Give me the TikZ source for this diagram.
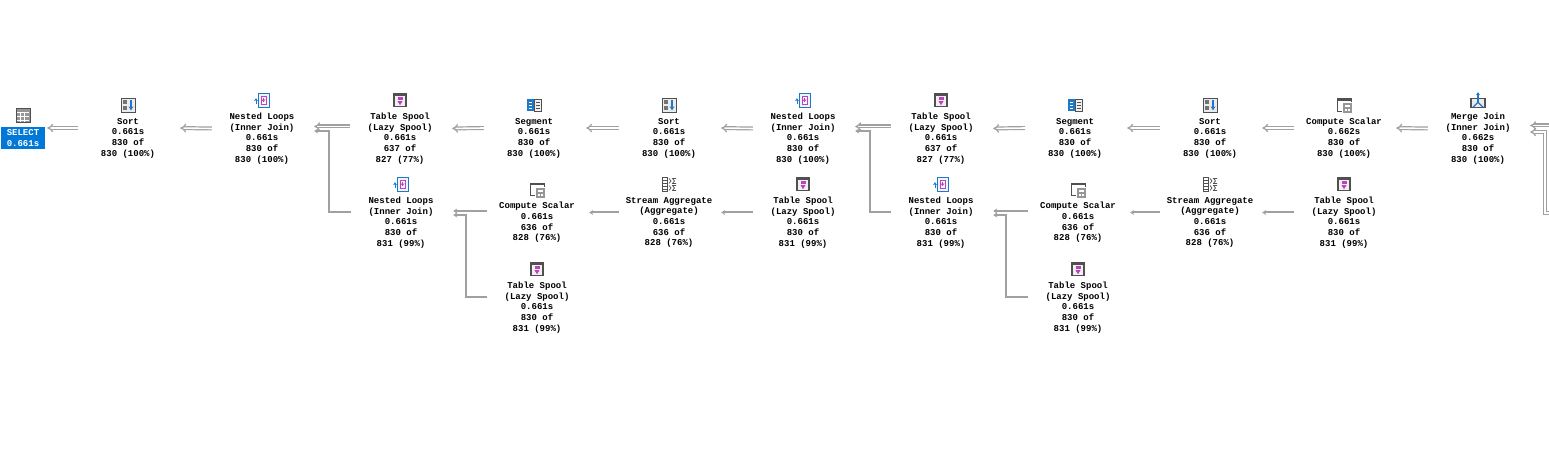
\documentclass[tikz,border=0pt]{standalone}
\usepackage{fontspec}
\setmonofont{Liberation Mono}
\usetikzlibrary{arrows.meta}
\definecolor{edge_gray}{HTML}{A0A0A0}
\definecolor{icon_dark}{HTML}{505050}
\definecolor{icon_blue}{HTML}{1E78C8}
\definecolor{icon_pink}{HTML}{C040C0}
\definecolor{select_blue}{HTML}{0078D7}
\tikzset{
  table_icon/.pic={
    \fill[icon_dark!60] (-7,-7) rectangle (7,7);
    \foreach \k in {-3,1,5} \draw[white,line width=.6] (-6,\k) -- (6,\k);
    \foreach \k in {-2.5,1.5} \draw[white,line width=.6] (\k,-4) -- (\k,6);
    \draw[icon_dark,line width=.8] (-7,-7) rectangle (7,7);
  },
  sort_icon/.pic={
    \draw[icon_dark,fill=black!8,line width=1] (-7,-7) rectangle (7,7);
    \fill[icon_dark!80] (-5,-5) rectangle (-1,-1);
    \fill[icon_dark!80] (-5,1) rectangle (-1,5);
    \draw[icon_blue,line width=1.2,-{Stealth[length=4,width=5]}] (3,-5) -- (3,5);
  },
  nested_icon/.pic={
    \draw[icon_blue,fill=icon_blue!8,line width=1] (-4,-7) rectangle (7,7);
    \draw[icon_pink,fill=white,line width=1] (-1,-4) rectangle (4,4);
    \draw[icon_blue,line width=1,-{Stealth[length=3,width=4]}] (-6,4) -- (-6,-2);
    \draw[icon_pink,line width=1,-{Stealth[length=3,width=4]}] (1.5,-2) -- (1.5,2);
  },
  spool_icon/.pic={
    \draw[icon_dark,fill=black!6,line width=1.2] (-6,-6.5) rectangle (6,6.5);
    \fill[icon_dark] (-6,-6.5) rectangle (6,-4);
    \fill[icon_pink] (-2.5,-3) rectangle (2.5,-.5);
    \fill[icon_pink] (-2.5,1) -- (2.5,1) -- (0,5) -- cycle;
  },
  segment_icon/.pic={
    \fill[icon_blue] (-7,-6) rectangle (-.5,6);
    \foreach \k in {-3,0,3} \draw[white,line width=.8] (-5.5,\k) -- (-2,\k);
    \draw[icon_dark,fill=black!6,line width=1] (.5,-6) rectangle (7,6);
    \foreach \k in {-3,0,3} \draw[icon_dark,line width=.8] (2,\k) -- (5.5,\k);
  },
  compute_icon/.pic={
    \draw[icon_dark,line width=1] (7,-3) -- (7,-6.5) -- (-7,-6.5) -- (-7,6) -- (-2,6);
    \fill[icon_dark] (-7,-7) rectangle (7,-4.5);
    \fill[icon_dark!60] (-1,-2) rectangle (8,8);
    \fill[white] (1,0) rectangle (6,2);
    \foreach \k in {1,4} \fill[white] (\k,4) rectangle (\k+2,6);
  },
  stream_icon/.pic={
    \draw[icon_dark,line width=1] (-7,-7) rectangle (-1.5,7);
    \foreach \k in {-4.5,-1.5,1.5,4.5} \draw[icon_dark,line width=.9] (-6,\k) -- (-2.5,\k);
    \foreach \k in {-3.5,3.5} {
      \draw[icon_dark,line width=.7] (0,\k-2.5) -- (2,\k) -- (0,\k+2.5);
      \draw[icon_dark,line width=.7] (7,\k-2.5) -- (3.5,\k-2.5) -- (5.5,\k) -- (3.5,\k+2.5) -- (7,\k+2.5);
    }
  },
  merge_icon/.pic={
    \draw[icon_dark,fill=black!8,line width=1.2] (-7,-2) rectangle (7,7);
    \draw[icon_blue,line width=1.2,-{Stealth[length=3,width=4]}] (0,2) -- (0,-8);
    \draw[icon_blue,line width=1.2] (-5,7) -- (0,2) -- (5,7);
  }
}
\begin{document}
\begin{tikzpicture}[x=1pt, y=-1pt]
\tikzstyle{op_style} = [minimum width=100, inner sep=0, align=center, text=black,
  font=\ttfamily\bfseries\fontsize{9}{10.7}\selectfont]
\tikzstyle{select_style} = [op_style, minimum width=44, minimum height=22, fill=select_blue, text=white]
\tikzstyle{edge_style} = [draw=edge_gray, line width=1.2, double=white, double distance=1.6,
  shorten >=2, -{Implies}]
\tikzstyle{thin_style} = [draw=edge_gray, line width=2, shorten >=2, -{Stealth[length=4,width=5]}]
\useasboundingbox (0,0) rectangle (1549,454);

\node[select_style] (select) at (23,138) {SELECT\\0.661s};

% top row
\node[op_style] (sort_a) at (128,138) {Sort\\0.661s\\830 of\\830 (100\%)};
\node[op_style] (nested_a) at (262,138.5) {Nested Loops\\(Inner Join)\\0.661s\\830 of\\830 (100\%)};
\node[op_style] (spool_a) at (400,138.5) {Table Spool\\(Lazy Spool)\\0.661s\\637 of\\827 (77\%)};
\node[op_style] (segment_a) at (534,138) {Segment\\0.661s\\830 of\\830 (100\%)};
\node[op_style] (sort_b) at (669,138) {Sort\\0.661s\\830 of\\830 (100\%)};
\node[op_style] (nested_b) at (803,138.5) {Nested Loops\\(Inner Join)\\0.661s\\830 of\\830 (100\%)};
\node[op_style] (spool_b) at (941,138.5) {Table Spool\\(Lazy Spool)\\0.661s\\637 of\\827 (77\%)};
\node[op_style] (segment_b) at (1075,138) {Segment\\0.661s\\830 of\\830 (100\%)};
\node[op_style] (sort_c) at (1210,138) {Sort\\0.661s\\830 of\\830 (100\%)};
\node[op_style] (compute_a) at (1344,138) {Compute Scalar\\0.662s\\830 of\\830 (100\%)};
\node[op_style] (merge) at (1478,138.5) {Merge Join\\(Inner Join)\\0.662s\\830 of\\830 (100\%)};

% middle row
\node[op_style] (nested_c) at (401,222.5) {Nested Loops\\(Inner Join)\\0.661s\\830 of\\831 (99\%)};
\node[op_style] (compute_b) at (537,222.5) {Compute Scalar\\0.661s\\636 of\\828 (76\%)};
\node[op_style] (stream_a) at (669,222.5) {Stream Aggregate\\(Aggregate)\\0.661s\\636 of\\828 (76\%)};
\node[op_style] (spool_c) at (803,222.5) {Table Spool\\(Lazy Spool)\\0.661s\\830 of\\831 (99\%)};
\node[op_style] (nested_d) at (941,222.5) {Nested Loops\\(Inner Join)\\0.661s\\830 of\\831 (99\%)};
\node[op_style] (compute_c) at (1078,222.5) {Compute Scalar\\0.661s\\636 of\\828 (76\%)};
\node[op_style] (stream_b) at (1210,222.5) {Stream Aggregate\\(Aggregate)\\0.661s\\636 of\\828 (76\%)};
\node[op_style] (spool_d) at (1344,222.5) {Table Spool\\(Lazy Spool)\\0.661s\\830 of\\831 (99\%)};

% bottom row
\node[op_style] (spool_e) at (537,307.5) {Table Spool\\(Lazy Spool)\\0.661s\\830 of\\831 (99\%)};
\node[op_style] (spool_f) at (1078,307.5) {Table Spool\\(Lazy Spool)\\0.661s\\830 of\\831 (99\%)};

% icons
\pic at ([yshift=11]select.north) {table_icon};
\foreach \n/\i in {sort_a/sort_icon, sort_b/sort_icon, sort_c/sort_icon,
    nested_a/nested_icon, nested_b/nested_icon, nested_c/nested_icon, nested_d/nested_icon,
    spool_a/spool_icon, spool_b/spool_icon, spool_c/spool_icon, spool_d/spool_icon,
    spool_e/spool_icon, spool_f/spool_icon, segment_a/segment_icon, segment_b/segment_icon,
    compute_a/compute_icon, compute_b/compute_icon, compute_c/compute_icon,
    stream_a/stream_icon, stream_b/stream_icon, merge/merge_icon}
  \pic at ([yshift=12.5]\n.north) {\i};

% straight edges
\foreach \a/\b in {sort_a/select, nested_a/sort_a, segment_a/spool_a, sort_b/segment_a,
    nested_b/sort_b, segment_b/spool_b, sort_c/segment_b, compute_a/sort_c, merge/compute_a}
  \draw[edge_style] ([yshift=10]\a.west) -- ([yshift=10]\b.east);
\foreach \a/\b in {stream_a/compute_b, spool_c/stream_a, stream_b/compute_c, spool_d/stream_b}
  \draw[thin_style] ([yshift=10]\a.west) -- ([yshift=10]\b.east);

% joins: upper and lower input
\foreach \a/\b/\c in {spool_a/nested_a/nested_c, spool_b/nested_b/nested_d} {
  \draw[edge_style] ([yshift=12]\a.west) -- ([yshift=12]\b.east);
  \draw[thin_style] ([yshift=10.5]\c.west) -| ([xshift=17,yshift=7.5]\b.east) -- ([yshift=7.5]\b.east);
}
\foreach \a/\b/\c in {compute_b/nested_c/spool_e, compute_c/nested_d/spool_f} {
  \draw[thin_style] ([yshift=11.5]\a.west) -- ([yshift=11.5]\b.east);
  \draw[thin_style] ([yshift=10.5]\c.west) -| ([xshift=15,yshift=7.5]\b.east) -- ([yshift=7.5]\b.east);
}
\coordinate (off_a) at (1549,125.5);
\coordinate (off_b) at (1549,213);
\draw[edge_style] (off_a) -- ([yshift=13]merge.east);
\draw[edge_style] (off_b) -| ([xshift=17,yshift=6.5]merge.east) -- ([yshift=6.5]merge.east);
\end{tikzpicture}
\end{document}
